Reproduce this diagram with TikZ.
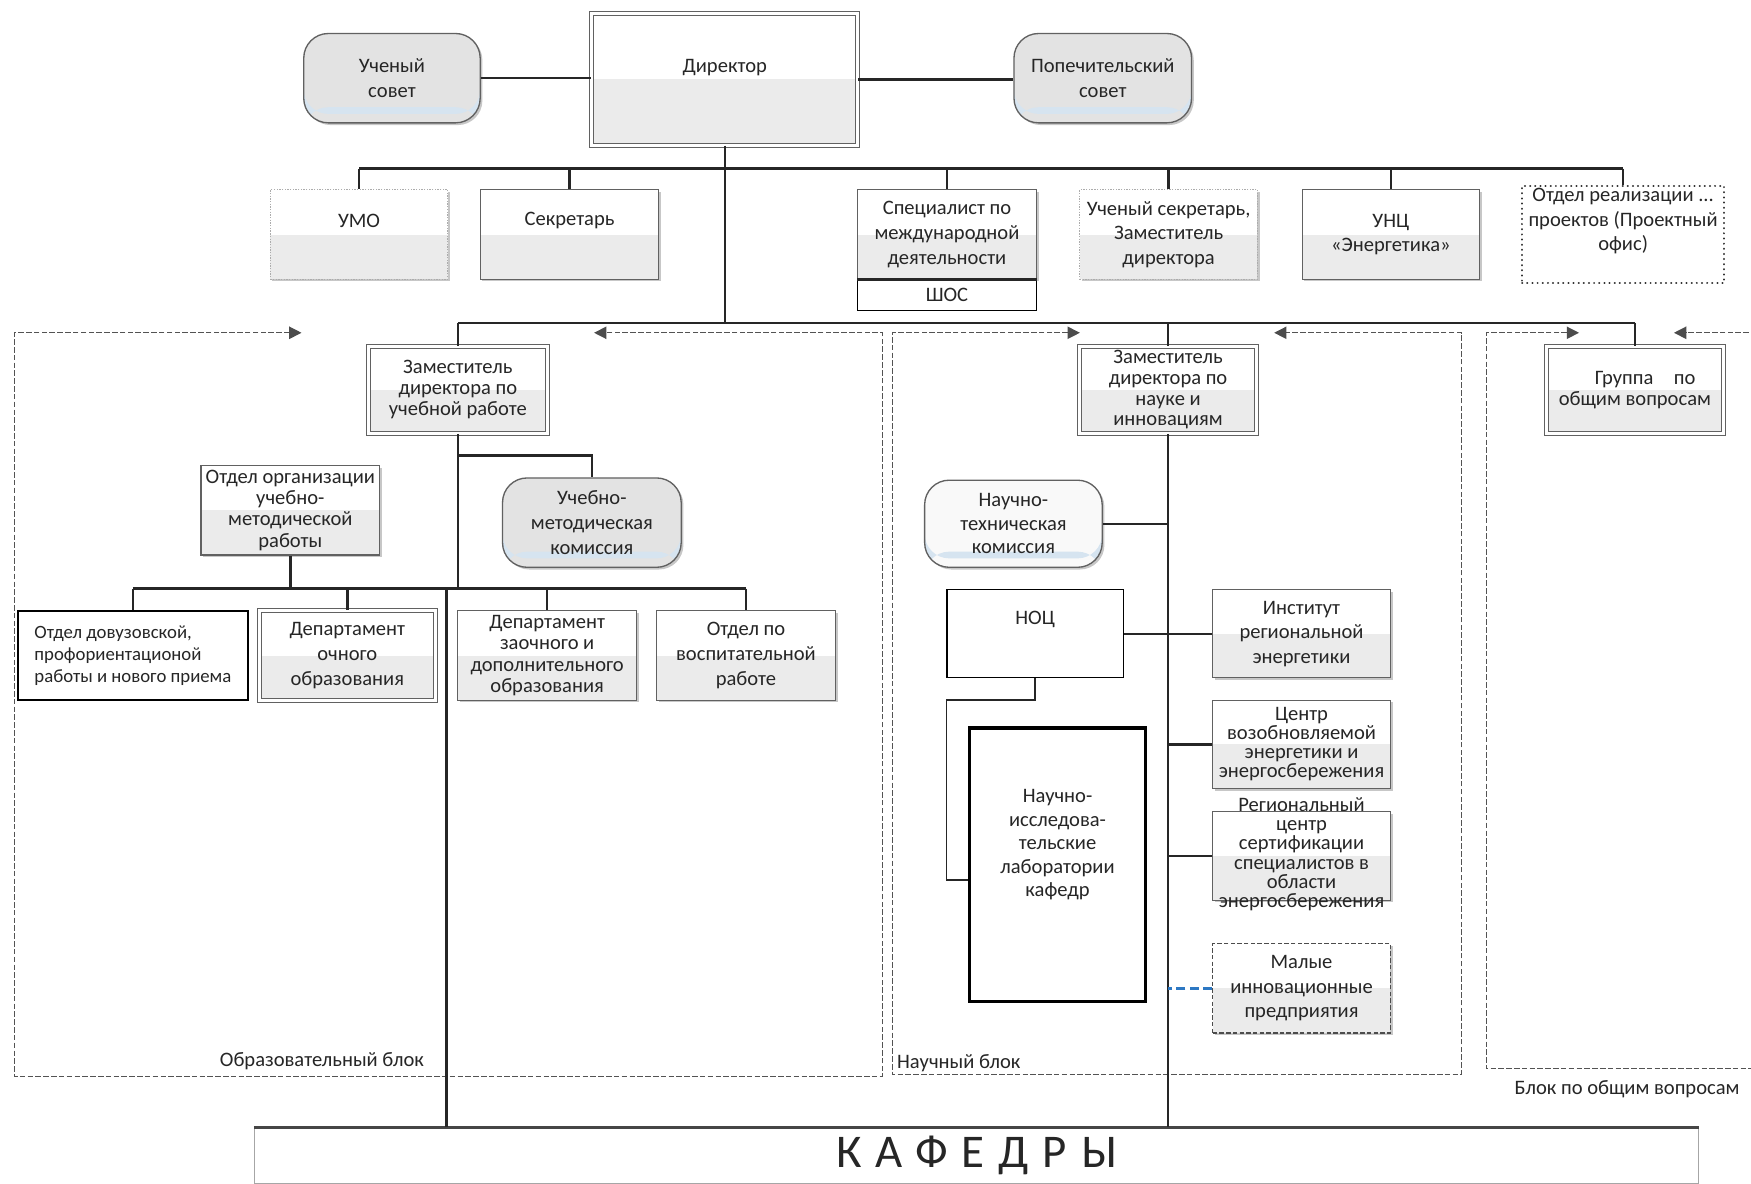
\documentclass[tikz,border=0pt]{standalone}
\usepackage{fontspec}
\setmainfont{Carlito}
\usetikzlibrary{arrows.meta,shadows,calc}
\definecolor{boxline}{gray}{0.38}
\definecolor{lowfill}{gray}{0.92}
\definecolor{roundfill}{gray}{0.89}
\definecolor{stripe}{RGB}{214,228,240}
\definecolor{blueline}{RGB}{45,120,195}
\begin{document}
\begin{tikzpicture}[x=0.5pt,y=-0.5pt,
  base/.style={rectangle, inner sep=1pt, align=center, text=black!85,
    font=\fontsize{9.2}{10.5}\selectfont},
  shad/.style={drop shadow={shadow xshift=1pt, shadow yshift=-1pt, opacity=0.22, fill=black}},
  lowhalf/.style={path picture={\fill[lowfill] (path picture bounding box.west) rectangle (path picture bounding box.south east);}},
  gbox/.style={base, draw=boxline, line width=0.5pt, fill=white, lowhalf, shad},
  dbox/.style={gbox, double, double distance=1.3pt},
  rbox/.style={base, draw=boxline, line width=0.6pt, rounded corners=11pt, fill=roundfill, shad,
    path picture={\fill[stripe] ([yshift=4pt]path picture bounding box.south west) rectangle ([yshift=7pt]path picture bounding box.south east);}},
  wbox/.style={base, draw=black, fill=white, line width=0.6pt},
  conn/.style={draw=black!85, line width=1.1pt},
  thinconn/.style={draw=black!85, line width=0.7pt},
  blockline/.style={draw=gray!65!black, line width=0.55pt, dash pattern=on 2.5pt off 1pt},
  blocktip/.tip={Triangle[length=5.5pt,width=5.5pt,color=black!70]},
  lbl/.style={inner sep=1pt, text=black!85, font=\fontsize{9.2}{10.5}\selectfont},
  lead/.style={font=\fontsize{9.2}{#1}\selectfont}
]
\fill[white] (0,0) rectangle (1568,1060);
\useasboundingbox (0,0) rectangle (1568,1060);

% ---------- blocks ----------
\draw[blockline, blocktip-blocktip] (270,298) -- (13,298) -- (13,964) -- (790,964) -- (790,298) -- (532,298);
\draw[blockline, blocktip-blocktip] (967,298) -- (799,298) -- (799,962) -- (1309,962) -- (1309,298) -- (1141,298);
\draw[blockline, blocktip-] (1414,298) -- (1331,298) -- (1331,957) -- (1580,957);
\draw[blockline, -blocktip] (1580,298) -- (1499,298);
\node[lbl, anchor=east] (lobr) at (382,950) {Образовательный блок};
\node[lbl, anchor=west] (lnauch) at (801,952) {Научный блок};
\node[lbl] (lobsh) at (1457,975) {Блок по общим вопросам};

% ---------- top ----------
\node[rbox, minimum width=79pt, minimum height=40pt, lead=11] (uchsovet) at (351,70) {Ученый\\совет};
\node[dbox, minimum width=119pt, minimum height=59pt, text depth=12pt] (director) at (649,71) {Директор};
\node[rbox, minimum width=79.5pt, minimum height=40pt, lead=11] (popsovet) at (987.5,70) {Попечительский\\совет};

\node[gbox, draw=gray!65, dash pattern=on 0.6pt off 0.6pt, minimum width=79.5pt, minimum height=40pt, text depth=12pt] (umo) at (321.5,210) {УМО};
\node[gbox, minimum width=80pt, minimum height=40pt, text depth=14pt] (sekr) at (510,210) {Секретарь};
\node[gbox, minimum width=80pt, minimum height=40pt, lead=11] (spec) at (848,210) {Специалист по\\международной\\деятельности};
\node[wbox, line width=0.5pt, minimum width=80pt, minimum height=13.5pt, anchor=north] (shos) at (spec.south) {ШОС};
\node[gbox, draw=gray!65, dash pattern=on 0.6pt off 0.6pt, minimum width=79.5pt, minimum height=40pt, lead=11] (uchsekr) at (1046.5,210) {Ученый секретарь,\\Заместитель\\директора};
\node[gbox, minimum width=79.5pt, minimum height=40pt, lead=11] (unc) at (1245.5,210) {УНЦ\\«Энергетика»};
\node[base, inner xsep=0pt, fill=white, draw=black!80, dash pattern=on 0.1pt off 2.2pt, line cap=round, line width=0.9pt, minimum width=90.5pt, minimum height=40pt, text depth=13.5pt, lead=11] (otdreal) at (1453.5,210) {Отдел реализации ...\\проектов (Проектный\\офис)};

% ---------- deputies ----------
\node[dbox, minimum width=80pt, minimum height=39pt, lead=9.3] (zamuch) at (410,349) {Заместитель\\директора по\\учебной работе};
\node[dbox, minimum width=79pt, minimum height=39pt, lead=9.3] (zamnauk) at (1046,349) {Заместитель\\директора по\\науке и\\инновациям};
\node[dbox, minimum width=79pt, minimum height=39pt, lead=9.5] (gruppa) at (1464,349) {\quad Группа\quad по\\общим вопросам};

% ---------- education block ----------
\node[gbox, minimum width=80pt, minimum height=40pt, lead=9.5] (otdorg) at (260,457) {Отдел организации\\учебно-\\методической\\работы};
\node[rbox, minimum width=80pt, minimum height=40pt, lead=11] (umk) at (530,468) {Учебно-\\методическая\\комиссия};
\node[wbox, line width=1pt, minimum width=103pt, minimum height=40pt, align=left, font=\fontsize{8.4}{10}\selectfont] (dovuz) at (119,587) {Отдел довузовской,\\профориентационой\\работы и нового приема};
\node[dbox, minimum width=79pt, minimum height=40pt, lead=11] (ochnoe) at (311,587) {Департамент\\очного\\образования};
\node[gbox, minimum width=80pt, minimum height=40pt, lead=9.5] (zaochnoe) at (490,587) {Департамент\\заочного и\\дополнительного\\образования};
\node[gbox, minimum width=80pt, minimum height=40pt, lead=11] (vospit) at (668,587) {Отдел по\\воспитательной\\работе};

% ---------- science block ----------
\node[rbox, fill=gray!5, minimum width=79.5pt, minimum height=39pt, lead=10.5] (ntk) at (907.5,469) {Научно-\\техническая\\комиссия};
\node[wbox, line width=0.5pt, minimum width=79pt, minimum height=39.5pt, text depth=14pt] (noc) at (927,567.5) {НОЦ};
\node[gbox, minimum width=79.5pt, minimum height=39.5pt, lead=11] (inst) at (1165.5,567.5) {Институт\\региональной\\энергетики};
\node[wbox, line width=1.5pt, minimum width=79pt, minimum height=122.5pt, lead=10.5, text depth=19.5pt] (nil) at (947,774.5) {Научно-\\исследова-\\тельские\\лаборатории\\кафедр};
\node[gbox, minimum width=79.5pt, minimum height=39.5pt, lead=8.5] (centr) at (1165.5,666.5) {Центр\\возобновляемой\\энергетики и\\энергосбережения};
\node[gbox, minimum width=79.5pt, minimum height=39.5pt] (regcentr) at (1165.5,766.5) {};
\node[base, lead=8.6] (regtext) at (1165.5,765) {Региональный\\центр\\сертификации\\специалистов в\\области\\энергосбережения};
\node[gbox, draw=gray!60!black, dash pattern=on 2pt off 1pt, minimum width=79.5pt, minimum height=40pt, lead=11] (maliye) at (1165.5,885) {Малые\\инновационные\\предприятия};

% ---------- departments ----------
\node[base, draw=gray!70, line width=0.6pt, fill=white, minimum width=646.5pt, minimum height=25pt,
  font=\fontsize{21}{24}\selectfont\addfontfeature{LetterSpace=30}] (kafedry) at (874.5,1035) {КАФЕДРЫ};
\draw[gray!55!black, line width=1.4pt] (kafedry.north west) -- (kafedry.north east);
\draw[black!85, line width=1.4pt] (spec.south west) -- (spec.south east);

% ---------- connectors ----------
\coordinate (b1) at (649,151);
\coordinate (b2) at (649,289);
\coordinate (b3) at (410,527);
\coordinate (jumk) at (410,408);
\coordinate (kl) at (400,527);

\draw[conn] (uchsovet.east) -- (uchsovet.east -| director.west);
\draw[conn] (director.east) -- (director.east -| popsovet.west);
\draw[conn] (director.south) -- (b2);
\draw[conn] (umo.north |- b1) -- (otdreal.north |- b1);
\foreach \n in {umo,sekr,spec,uchsekr,unc,otdreal} \draw[conn] (\n.north |- b1) -- (\n.north);
\draw[conn] (zamuch.north |- b2) -- (gruppa.north |- b2);
\foreach \n in {zamuch,zamnauk,gruppa} \draw[conn] (\n.north |- b2) -- (\n.north);

\draw[conn] (zamuch.south) -- (b3);
\draw[conn] (jumk) -| (umk.north);
\draw[conn] (otdorg.south) -- (otdorg.south |- b3);
\draw[conn] (dovuz.north |- b3) -- (vospit.north |- b3);
\foreach \n in {dovuz,ochnoe,zaochnoe,vospit} \draw[conn] (\n.north |- b3) -- (\n.north);
\draw[conn] (kl) -- (kl |- kafedry.north);

\draw[conn] (zamnauk.south) -- (zamnauk.south |- kafedry.north);
\draw[conn] (ntk.east) -- (ntk.east -| zamnauk.south);
\draw[thinconn] (noc.east) -- (noc.east -| zamnauk.south);
\draw[conn] (inst.west) -- (inst.west -| zamnauk.south);
\draw[conn] (centr.west) -- (centr.west -| zamnauk.south);
\draw[conn] (regcentr.west) -- (regcentr.west -| zamnauk.south);
\draw[blueline, line width=1.2pt, dash pattern=on 4pt off 2pt] (maliye.west) -- (maliye.west -| zamnauk.south);
\draw[thinconn] (noc.south) -- (noc.south |- 0,627) -- (noc.west |- 0,627) -- (noc.west |- 0,788) -- (nil.west |- 0,788);
\end{tikzpicture}
\end{document}
